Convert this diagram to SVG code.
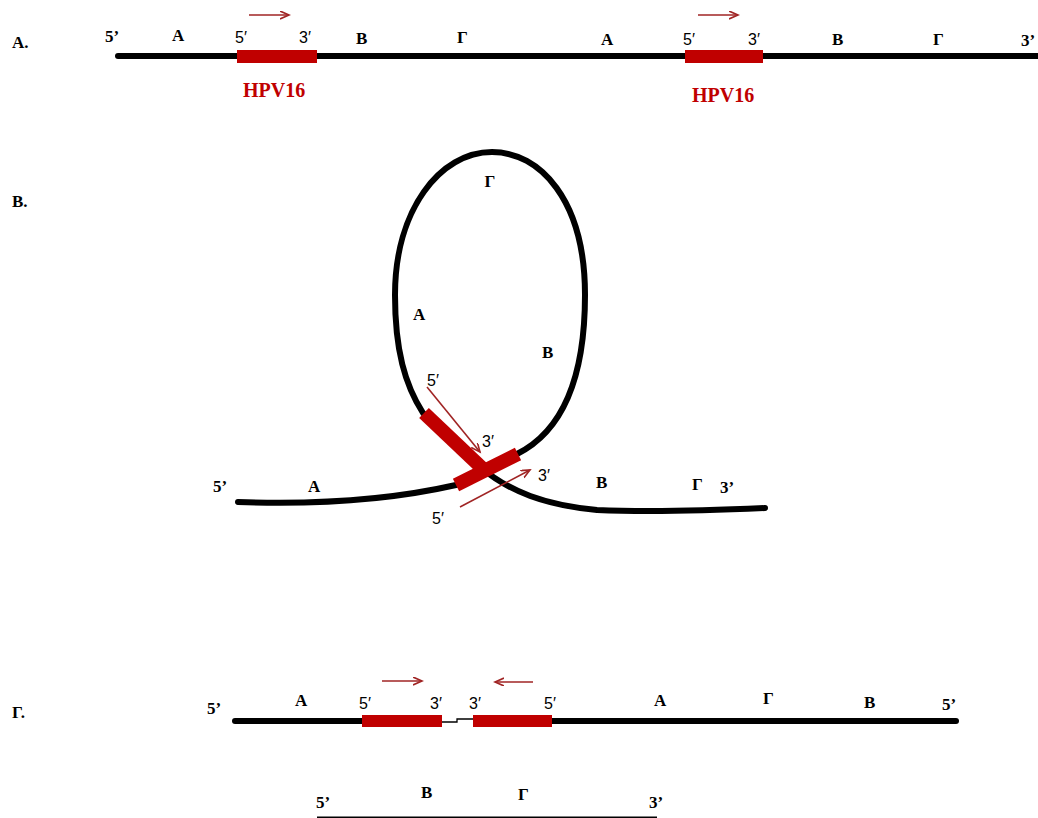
<svg xmlns="http://www.w3.org/2000/svg" width="1038" height="818" viewBox="0 0 1038 818">
<style>
.bg{fill:#ffffff}
.strand{fill:none;stroke:#000;stroke-width:6;stroke-linecap:round;stroke-linejoin:round}
.seg{fill:#c00000;stroke:none}
.segl{fill:none;stroke:#c00000;stroke-width:14;stroke-linecap:butt}
.arr{fill:none;stroke:#a02424;stroke-width:1.6}
.thin{fill:none;stroke:#000;stroke-width:1.3}
.lb{font-family:"Liberation Serif",serif;font-weight:bold;font-size:17px;fill:#000}
.pr{font-family:"Liberation Sans",sans-serif;font-size:16px;fill:#000}
.hpv{font-family:"Liberation Serif",serif;font-weight:bold;font-size:20px;fill:#c00000}
</style>
<defs>
<marker id="ah" markerWidth="12" markerHeight="10" refX="9" refY="4" orient="auto" markerUnits="userSpaceOnUse">
<path d="M0,0 L9,4 L0,8" fill="none" stroke="#a02424" stroke-width="1.6"/>
</marker>
</defs>
<rect class="bg" x="0" y="0" width="1038" height="818"/>

<g id="panelA">
<text class="lb" x="12" y="48">A.</text>
<g id="strandA">
<line class="strand" x1="118" y1="56" x2="1045" y2="56"/>
</g>
<g id="hpvA1">
<rect class="seg" x="237" y="50" width="80" height="13"/>
<text class="hpv" x="243" y="97">HPV16</text>
</g>
<g id="hpvA2">
<rect class="seg" x="685" y="50" width="78" height="13"/>
<text class="hpv" x="692" y="102">HPV16</text>
</g>
<g id="labelsA">
<text class="lb" x="105" y="42">5’</text>
<text class="lb" x="172" y="41">A</text>
<text class="pr" x="235" y="43">5′</text>
<text class="pr" x="299" y="43">3′</text>
<text class="lb" x="356" y="44">B</text>
<text class="lb" x="457" y="43">Γ</text>
<text class="lb" x="601" y="45">A</text>
<text class="pr" x="683" y="45">5′</text>
<text class="pr" x="748" y="45">3′</text>
<text class="lb" x="832" y="45">B</text>
<text class="lb" x="933" y="45">Γ</text>
<text class="lb" x="1021" y="46">3’</text>
</g>
</g>

<g id="panelB">
<text class="lb" x="12" y="207">B.</text>
<g id="strandB">
<path class="strand" d="M 238 502 C 320 505, 390 500, 456 485 L 517 454 C 555 435, 585 390, 585 295 C 585 200, 540 152, 492 152 C 440 152, 395 210, 395 295 C 395 350, 405 385, 423 413 L 480 467 C 510 492, 545 505, 597 510 C 640 512, 700 511, 765 508"/>
</g>
<g id="hpvB1">
<line class="segl" x1="424" y1="413" x2="482" y2="468"/>
</g>
<g id="hpvB2">
<line class="segl" x1="456" y1="485" x2="518" y2="454"/>
</g>
<g id="labelsB">
<text class="lb" x="490" y="187" text-anchor="middle">Γ</text>
<text class="lb" x="413" y="320">A</text>
<text class="lb" x="542" y="358">B</text>
<text class="lb" x="213" y="492">5’</text>
<text class="lb" x="308" y="492">A</text>
<text class="lb" x="596" y="488">B</text>
<text class="lb" x="692" y="490">Γ</text>
<text class="lb" x="720" y="493">3’</text>
<text class="pr" x="427" y="386">5′</text>
<text class="pr" x="482" y="447">3′</text>
<text class="pr" x="538" y="481">3′</text>
<text class="pr" x="432" y="524">5′</text>
</g>
</g>

<g id="panelG">
<text class="lb" x="12" y="718">Γ.</text>
<g id="strandG">
<line class="strand" x1="235" y1="721" x2="364" y2="721"/>
<line class="strand" x1="550" y1="721" x2="956" y2="721"/>
</g>
<g id="hpvG1">
<rect class="seg" x="362" y="715" width="80" height="12"/>
</g>
<g id="hpvG2">
<rect class="seg" x="473" y="715" width="79" height="12"/>
</g>
<g id="labelsG">
<text class="lb" x="207" y="714">5’</text>
<text class="lb" x="295" y="706">A</text>
<text class="pr" x="359" y="709">5′</text>
<text class="pr" x="430" y="709">3′</text>
<text class="pr" x="469" y="709">3′</text>
<text class="pr" x="544" y="709">5′</text>
<text class="lb" x="654" y="706">A</text>
<text class="lb" x="763" y="704">Γ</text>
<text class="lb" x="864" y="708">B</text>
<text class="lb" x="942" y="710">5’</text>
</g>
</g>

<g id="panelBottom">
<g id="strandBottom">
<line x1="317" y1="819" x2="657" y2="819" stroke="#000" stroke-width="5"/>
</g>
<g id="labelsBottom">
<text class="lb" x="316" y="808">5’</text>
<text class="lb" x="421" y="798">B</text>
<text class="lb" x="518" y="800">Γ</text>
<text class="lb" x="649" y="808">3’</text>
</g>
</g>

<g id="connectors">
<line class="arr" x1="249" y1="15" x2="289" y2="15" marker-end="url(#ah)"/>
<line class="arr" x1="698" y1="15" x2="738" y2="15" marker-end="url(#ah)"/>
<line class="arr" x1="427" y1="387" x2="480" y2="452" marker-end="url(#ah)"/>
<line class="arr" x1="460" y1="507" x2="530" y2="470" marker-end="url(#ah)"/>
<line class="arr" x1="382" y1="681" x2="422" y2="681" marker-end="url(#ah)"/>
<line class="arr" x1="533" y1="682" x2="495" y2="682" marker-end="url(#ah)"/>
<polyline class="thin" points="442,722 457,722 457,719 473,719"/>
</g>
</svg>
